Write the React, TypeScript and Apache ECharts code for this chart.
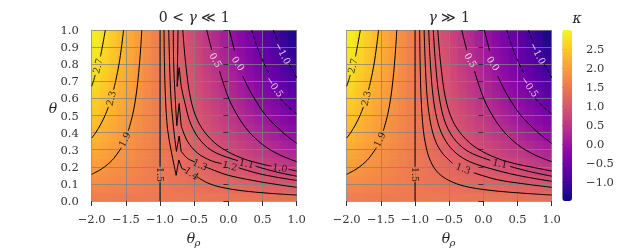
import React, { useEffect, useRef } from "react";
import * as echarts from "echarts";

// ---------- axis ticks ----------
const thetaRhoTicks = [-2.0, -1.5, -1.0, -0.5, 0.0, 0.5, 1.0];
const thetaTicks = [0.0, 0.1, 0.2, 0.3, 0.4, 0.5, 0.6, 0.7, 0.8, 0.9, 1.0];
const kappaTicks = [-1.0, -0.5, 0.0, 0.5, 1.0, 1.5, 2.0, 2.5];

// ---------- background field (cell centres) ----------
const cellThetaRho = [-1.9375, -1.8125, -1.6875, -1.5625, -1.4375, -1.3125, -1.1875, -1.0625, -0.9375, -0.8125, -0.6875, -0.5625, -0.4375, -0.3125, -0.1875, -0.0625, 0.0625, 0.1875, 0.3125, 0.4375, 0.5625, 0.6875, 0.8125, 0.9375];
const cellTheta = [0.025, 0.075, 0.125, 0.175, 0.225, 0.275, 0.325, 0.375, 0.425, 0.475, 0.525, 0.575, 0.625, 0.675, 0.725, 0.775, 0.825, 0.875, 0.925, 0.975];
const kappaGrid = [
  [1.57, 1.56, 1.55, 1.54, 1.53, 1.52, 1.51, 1.5, 1.5, 1.49, 1.48, 1.47, 1.46, 1.45, 1.44, 1.43, 1.42, 1.41, 1.41, 1.4, 1.39, 1.38, 1.37, 1.36],
  [1.69, 1.67, 1.64, 1.62, 1.59, 1.56, 1.54, 1.51, 1.49, 1.46, 1.44, 1.41, 1.38, 1.36, 1.33, 1.31, 1.28, 1.26, 1.23, 1.2, 1.18, 1.15, 1.13, 1.1],
  [1.81, 1.77, 1.73, 1.69, 1.64, 1.6, 1.56, 1.52, 1.48, 1.44, 1.4, 1.36, 1.32, 1.27, 1.23, 1.19, 1.15, 1.11, 1.07, 1.03, 0.99, 0.95, 0.91, 0.86],
  [1.91, 1.86, 1.8, 1.75, 1.69, 1.64, 1.58, 1.53, 1.47, 1.42, 1.36, 1.31, 1.25, 1.2, 1.14, 1.09, 1.03, 0.98, 0.92, 0.87, 0.81, 0.76, 0.7, 0.65],
  [2.01, 1.94, 1.87, 1.81, 1.74, 1.67, 1.6, 1.53, 1.47, 1.4, 1.33, 1.26, 1.19, 1.13, 1.06, 0.99, 0.92, 0.85, 0.79, 0.72, 0.65, 0.58, 0.51, 0.45],
  [2.1, 2.02, 1.94, 1.86, 1.78, 1.7, 1.62, 1.54, 1.46, 1.38, 1.3, 1.22, 1.14, 1.06, 0.98, 0.9, 0.82, 0.74, 0.66, 0.58, 0.5, 0.42, 0.34, 0.26],
  [2.18, 2.09, 2.0, 1.91, 1.82, 1.73, 1.64, 1.55, 1.45, 1.36, 1.27, 1.18, 1.09, 1.0, 0.91, 0.82, 0.73, 0.64, 0.54, 0.45, 0.36, 0.27, 0.18, 0.09],
  [2.26, 2.16, 2.06, 1.96, 1.85, 1.75, 1.65, 1.55, 1.45, 1.35, 1.25, 1.15, 1.04, 0.94, 0.84, 0.74, 0.64, 0.54, 0.44, 0.33, 0.23, 0.13, 0.03, -0.07],
  [2.33, 2.22, 2.11, 2.0, 1.89, 1.78, 1.67, 1.56, 1.44, 1.33, 1.22, 1.11, 1.0, 0.89, 0.78, 0.67, 0.56, 0.45, 0.34, 0.22, 0.11, 0.0, -0.11, -0.22],
  [2.4, 2.28, 2.16, 2.04, 1.92, 1.8, 1.68, 1.56, 1.44, 1.32, 1.2, 1.08, 0.96, 0.84, 0.72, 0.6, 0.48, 0.36, 0.24, 0.12, 0.0, -0.12, -0.24, -0.36],
  [2.46, 2.33, 2.21, 2.08, 1.95, 1.82, 1.69, 1.56, 1.44, 1.31, 1.18, 1.05, 0.92, 0.79, 0.67, 0.54, 0.41, 0.28, 0.15, 0.02, -0.1, -0.23, -0.36, -0.49],
  [2.52, 2.39, 2.25, 2.11, 1.98, 1.84, 1.7, 1.57, 1.43, 1.3, 1.16, 1.02, 0.89, 0.75, 0.62, 0.48, 0.34, 0.21, 0.07, -0.07, -0.2, -0.34, -0.47, -0.61],
  [2.58, 2.43, 2.29, 2.15, 2.0, 1.86, 1.72, 1.57, 1.43, 1.28, 1.14, 1.0, 0.85, 0.71, 0.57, 0.42, 0.28, 0.14, -0.01, -0.15, -0.29, -0.44, -0.58, -0.72],
  [2.63, 2.48, 2.33, 2.18, 2.03, 1.88, 1.73, 1.58, 1.42, 1.27, 1.12, 0.97, 0.82, 0.67, 0.52, 0.37, 0.22, 0.07, -0.08, -0.23, -0.38, -0.53, -0.68, -0.83],
  [2.68, 2.52, 2.36, 2.21, 2.05, 1.89, 1.74, 1.58, 1.42, 1.26, 1.11, 0.95, 0.79, 0.64, 0.48, 0.32, 0.17, 0.01, -0.15, -0.31, -0.46, -0.62, -0.78, -0.93],
  [2.72, 2.56, 2.4, 2.23, 2.07, 1.91, 1.74, 1.58, 1.42, 1.26, 1.09, 0.93, 0.77, 0.6, 0.44, 0.28, 0.11, -0.05, -0.21, -0.38, -0.54, -0.7, -0.87, -1.03],
  [2.77, 2.6, 2.43, 2.26, 2.09, 1.92, 1.75, 1.58, 1.42, 1.25, 1.08, 0.91, 0.74, 0.57, 0.4, 0.23, 0.06, -0.11, -0.28, -0.45, -0.62, -0.78, -0.95, -1.12],
  [2.81, 2.64, 2.46, 2.29, 2.11, 1.94, 1.76, 1.59, 1.41, 1.24, 1.06, 0.89, 0.71, 0.54, 0.36, 0.19, 0.01, -0.16, -0.33, -0.51, -0.68, -0.86, -1.03, -1.21],
  [2.85, 2.67, 2.49, 2.31, 2.13, 1.95, 1.77, 1.59, 1.41, 1.23, 1.05, 0.87, 0.69, 0.51, 0.33, 0.15, -0.03, -0.21, -0.39, -0.57, -0.75, -0.93, -1.11, -1.29],
  [2.89, 2.7, 2.52, 2.33, 2.15, 1.96, 1.78, 1.59, 1.41, 1.22, 1.04, 0.85, 0.67, 0.48, 0.3, 0.11, -0.07, -0.26, -0.44, -0.63, -0.81, -1.0, -1.18, -1.37],
];
const kappaMin = -1.5;
const kappaMax = 3.0;

// ---------- contour lines shared by both panels (θρ, θ), split at labels ----------
const c27 = [
  [[-1.8, 1], [-1.845, 0.9], [-1.872, 0.845]],
  [[-1.948, 0.737], [-1.975, 0.7], [-2, 0.671]],
];
const c23 = [
  [[-1.533, 1], [-1.564, 0.9], [-1.6, 0.8], [-1.65, 0.7], [-1.68, 0.65]],
  [[-1.756, 0.55], [-1.805, 0.5], [-1.866, 0.45], [-1.941, 0.4], [-2, 0.368]],
];
const c19 = [
  [[-1.267, 1], [-1.282, 0.9], [-1.301, 0.8], [-1.325, 0.7], [-1.357, 0.6], [-1.403, 0.5], [-1.465, 0.41]],
  [[-1.567, 0.312], [-1.584, 0.3], [-1.675, 0.25], [-1.735, 0.225], [-1.811, 0.2], [-1.886, 0.18], [-2, 0.156]],
];
const c15 = [
  [[-1, 1], [-1, 0.2]],
  [[-1, 0.11], [-1, 0]],
];
const c05 = [
  [[-0.317, 1], [-0.244, 0.883]],
  [[-0.13, 0.76], [-0.05, 0.66], [0.05, 0.56], [0.25, 0.43], [0.5, 0.33], [0.75, 0.27], [1, 0.23]],
];
const c00 = [
  [[0.014, 1], [0.09, 0.88]],
  [[0.21, 0.73], [0.35, 0.62], [0.55, 0.5], [0.8, 0.4], [1, 0.337]],
];
const cm05 = [
  [[0.342, 1], [0.45, 0.87], [0.6, 0.74]],
  [[0.76, 0.6], [0.88, 0.55], [1, 0.51]],
];
const cm10 = [
  [[0.658, 1], [0.73, 0.93]],
  [[0.89, 0.8], [0.95, 0.76], [1, 0.72]],
];

// ---------- right panel (γ ≫ 1) levels 1.4 … 1.0 ----------
const r14 = [
  [[-0.933, 1], [-0.925, 0.8], [-0.911, 0.6], [-0.88, 0.42], [-0.84, 0.32], [-0.77, 0.23], [-0.65, 0.16], [-0.45, 0.11], [-0.2, 0.08], [0.2, 0.058], [0.6, 0.045], [1, 0.035]],
];
const r13 = [
  [[-0.867, 1], [-0.85, 0.8], [-0.821, 0.6], [-0.77, 0.45], [-0.7, 0.35], [-0.6, 0.28], [-0.45, 0.22]],
  [[-0.14, 0.165], [0.2, 0.125], [0.6, 0.1], [1, 0.08]],
];
const r12 = [
  [[-0.8, 1], [-0.775, 0.8], [-0.732, 0.6], [-0.66, 0.45], [-0.55, 0.35], [-0.4, 0.28], [-0.2, 0.23], [0.1, 0.19], [0.5, 0.15], [1, 0.115]],
];
const r11 = [
  [[-0.733, 1], [-0.699, 0.8], [-0.643, 0.6], [-0.55, 0.45], [-0.4, 0.35], [-0.2, 0.285], [0.1, 0.238]],
  [[0.39, 0.202], [0.7, 0.17], [1, 0.145]],
];
const r10 = [
  [[-0.667, 1], [-0.624, 0.8], [-0.553, 0.6], [-0.45, 0.47], [-0.3, 0.38], [-0.1, 0.31], [0.2, 0.25], [0.5, 0.215], [0.75, 0.195], [1, 0.175]],
];

// ---------- left panel (0 < γ ≪ 1) levels 1.4 … 1.0, with the sharp notches ----------
const l14 = [
  [[-0.942, 1], [-0.935, 0.8], [-0.92, 0.6], [-0.89, 0.42], [-0.84, 0.3], [-0.79, 0.2], [-0.765, 0.15]],
  [[-0.68, 0.19], [-0.62, 0.18]],
  [[-0.46, 0.142], [-0.3, 0.105], [-0.1, 0.08], [0.2, 0.06], [0.6, 0.045], [1, 0.035]],
];
const l14Notch = [[-0.765, 0.15], [-0.725, 0.24], [-0.68, 0.19]];
const l13 = [
  [[-0.873, 1], [-0.86, 0.8], [-0.84, 0.6], [-0.8, 0.42], [-0.76, 0.29]],
  [[-0.69, 0.29], [-0.6, 0.25], [-0.49, 0.228]],
  [[-0.34, 0.2], [-0.2, 0.178], [0.0, 0.15], [0.5, 0.11], [1, 0.08]],
];
const l13Notch = [[-0.76, 0.29], [-0.72, 0.38], [-0.69, 0.29]];
const l12 = [
  [[-0.806, 1], [-0.8, 0.8], [-0.78, 0.62], [-0.755, 0.44]],
  [[-0.69, 0.44], [-0.6, 0.35], [-0.45, 0.28], [-0.25, 0.235], [-0.1, 0.219]],
  [[0.15, 0.194], [0.5, 0.155], [1, 0.12]],
];
const l12Notch = [[-0.755, 0.44], [-0.72, 0.57], [-0.69, 0.44]];
const l11 = [
  [[-0.737, 1], [-0.74, 0.9], [-0.745, 0.8], [-0.75, 0.67]],
  [[-0.69, 0.67], [-0.64, 0.58], [-0.55, 0.45], [-0.4, 0.35], [-0.2, 0.285], [0.14, 0.236]],
  [[0.4, 0.203], [0.7, 0.17], [1, 0.145]],
];
const l11Notch = [[-0.75, 0.67], [-0.72, 0.78], [-0.69, 0.67]];
const l10 = [
  [[-0.667, 1], [-0.624, 0.8], [-0.553, 0.6], [-0.45, 0.47], [-0.3, 0.38], [-0.1, 0.31], [0.2, 0.25], [0.5, 0.215], [0.63, 0.204]],
  [[0.88, 0.186], [1, 0.175]],
];

// contour labels: [θρ, θ, text, rotation°, white]
const leftLabels = [
  [-1.915, 0.79, "2.7", 76, 0],
  [-1.72, 0.6, "2.3", 75, 0],
  [-1.52, 0.36, "1.9", 64, 0],
  [-1.0, 0.155, "1.5", -90, 0],
  [-0.537, 0.162, "1.4", -35, 0],
  [-0.415, 0.214, "1.3", -25, 0],
  [0.024, 0.207, "1.2", -15, 0],
  [0.268, 0.22, "1.1", -12, 0],
  [0.756, 0.195, "1.0", -8, 0],
  [-0.185, 0.825, "0.5", -60, 1],
  [0.146, 0.805, "0.0", -57, 1],
  [0.683, 0.669, "−0.5", -55, 1],
  [0.8, 0.864, "−1.0", -62, 1],
];
const rightLabels = [
  [-1.915, 0.79, "2.7", 76, 0],
  [-1.72, 0.6, "2.3", 75, 0],
  [-1.52, 0.36, "1.9", 64, 0],
  [-1.0, 0.155, "1.5", -90, 0],
  [-0.293, 0.191, "1.3", -20, 0],
  [0.244, 0.22, "1.1", -12, 0],
  [-0.185, 0.825, "0.5", -60, 1],
  [0.146, 0.805, "0.0", -57, 1],
  [0.683, 0.669, "−0.5", -55, 1],
  [0.8, 0.864, "−1.0", -62, 1],
];

const plasma = ["#0d0887", "#41049d", "#6a00a8", "#8f0da4", "#b12a90", "#cc4778", "#e16462", "#f2844b", "#fca636", "#fcce25", "#f0f921"];

const FONT = "DejaVu Serif";

const sharedSets = [
  { level: 2.7, segs: c27 },
  { level: 2.3, segs: c23 },
  { level: 1.9, segs: c19 },
  { level: 1.5, segs: c15 },
  { level: 0.5, segs: c05 },
  { level: 0.0, segs: c00 },
  { level: -0.5, segs: cm05 },
  { level: -1.0, segs: cm10 },
];
const leftSets = [
  { level: 1.4, segs: l14 },
  { level: 1.3, segs: l13 },
  { level: 1.2, segs: l12 },
  { level: 1.1, segs: l11 },
  { level: 1.0, segs: l10 },
];
const leftNotches = [l14Notch, l13Notch, l12Notch, l11Notch];
const rightSets = [
  { level: 1.4, segs: r14 },
  { level: 1.3, segs: r13 },
  { level: 1.2, segs: r12 },
  { level: 1.1, segs: r11 },
  { level: 1.0, segs: r10 },
];

const fmt = (v: number) => (v < 0 ? "−" + Math.abs(v).toFixed(1) : v.toFixed(1));
const colorOf = (v: number) => echarts.color.lerp((v - kappaMin) / (kappaMax - kappaMin), plasma) as string;

export default function App() {
  const ref = useRef<HTMLDivElement>(null);
  useEffect(() => {
    if (!ref.current) return;
    const chart = echarts.init(ref.current, undefined, { renderer: "svg" });

    const nC = cellThetaRho.length;
    const nR = cellTheta.length;
    const dX = (cellThetaRho[1] - cellThetaRho[0]) / 2;
    const dY = (cellTheta[1] - cellTheta[0]) / 2;

    // row strips: each row is one rect, coloured left→right through its cells
    const rowItem = (params: any, api: any) => {
      const r = api.value(0);
      const tl = api.coord([cellThetaRho[0] - dX, cellTheta[r] + dY]);
      const br = api.coord([cellThetaRho[nC - 1] + dX, cellTheta[r] - dY]);
      const stops = kappaGrid[r].map((v, c) => ({ offset: (c + 0.5) / nC, color: colorOf(v) }));
      return {
        type: "rect",
        shape: { x: tl[0], y: tl[1], width: br[0] - tl[0], height: br[1] - tl[1] + 0.6 },
        style: { fill: new echarts.graphic.LinearGradient(0, 0, 1, 0, stops) },
      };
    };
    // column strips: each column one rect coloured bottom→top, blended over the rows
    const colItem = (params: any, api: any) => {
      const c = api.value(0);
      const tl = api.coord([cellThetaRho[c] - dX, cellTheta[nR - 1] + dY]);
      const br = api.coord([cellThetaRho[c] + dX, cellTheta[0] - dY]);
      const stops = kappaGrid.map((row, r) => ({ offset: (r + 0.5) / nR, color: colorOf(row[c]) }));
      return {
        type: "rect",
        shape: { x: tl[0], y: tl[1], width: br[0] - tl[0], height: br[1] - tl[1] },
        style: { fill: new echarts.graphic.LinearGradient(0, 1, 0, 0, stops), opacity: 0.5 },
      };
    };

    const grids = [
      { left: 91.7, top: 30, width: 205, height: 171 },
      { left: 346.7, top: 30, width: 205, height: 171 },
      { left: 562.3, top: 30, width: 9.7, height: 171 },
    ];

    const xAxes: any[] = [];
    const yAxes: any[] = [];
    [0, 1].forEach((g) => {
      xAxes.push({
        type: "value", gridIndex: g, min: -2, max: 1, interval: 0.5, position: "bottom", z: 3,
        axisLine: { show: false },
        axisTick: { show: true, length: 5, customValues: thetaRhoTicks, lineStyle: { color: "#333", width: 1 } },
        axisLabel: { margin: 12, customValues: thetaRhoTicks, fontFamily: FONT, fontSize: 11.5, color: "#333", formatter: fmt },
        splitLine: { show: true, lineStyle: { color: "rgba(130,130,130,0.75)", width: 1 } },
      });
      yAxes.push({
        type: "value", gridIndex: g, min: 0, max: 1, interval: 0.1, position: "left", z: 3,
        axisLine: { show: false },
        axisTick: { show: true, length: 5, customValues: thetaTicks, lineStyle: { color: "#333", width: 1 } },
        axisLabel: { show: g === 0, margin: 13, customValues: thetaTicks, fontFamily: FONT, fontSize: 11.5, color: "#333", formatter: fmt },
        splitLine: { show: true, lineStyle: { color: "rgba(130,130,130,0.75)", width: 1 } },
      });
    });
    xAxes.push({ type: "value", gridIndex: 2, min: 0, max: 1, show: false });
    yAxes.push({
      type: "value", gridIndex: 2, min: kappaMin, max: kappaMax, position: "right",
      axisLine: { show: false },
      axisTick: { show: true, length: 5, customValues: kappaTicks, lineStyle: { color: "#333", width: 1 } },
      axisLabel: { margin: 14, customValues: kappaTicks, fontFamily: FONT, fontSize: 11.5, color: "#333", formatter: fmt },
      splitLine: { show: false },
    });

    const series: any[] = [];
    [0, 1].forEach((g) => {
      series.push({
        type: "custom", xAxisIndex: g, yAxisIndex: g, renderItem: rowItem, silent: true, z: 1, clip: true,
        data: cellTheta.map((_, r) => [r]),
      });
      series.push({
        type: "custom", xAxisIndex: g, yAxisIndex: g, renderItem: colItem, silent: true, z: 1, clip: true,
        data: cellThetaRho.map((_, c) => [c]),
      });
    });
    const lineSeries = (g: number, pts: number[][], level: number, smooth: number | boolean) => ({
      type: "line", xAxisIndex: g, yAxisIndex: g, data: pts, smooth,
      showSymbol: false, symbol: "none", silent: true, z: 5, clip: true,
      lineStyle: { color: "#000", width: 1, type: level < 0 ? [4, 2] : "solid" },
    });
    [0, 1].forEach((g) => {
      const sets = sharedSets.concat(g === 0 ? leftSets : rightSets);
      sets.forEach((cs) => cs.segs.forEach((seg) => series.push(lineSeries(g, seg, cs.level, 0.35))));
      if (g === 0) leftNotches.forEach((n) => series.push(lineSeries(0, n, 1, false)));
      const labs = g === 0 ? leftLabels : rightLabels;
      series.push({
        type: "scatter", xAxisIndex: g, yAxisIndex: g, symbolSize: 0, silent: true, z: 6,
        data: labs.map((l) => ({
          value: [l[0], l[1]],
          label: { show: true, formatter: String(l[2]), rotate: l[3] as number, color: l[4] ? "#fff" : "#000" },
        })),
        label: { show: true, position: "inside", fontFamily: FONT, fontSize: 9.5 },
      });
    });
    const cbIndex = series.length;
    series.push({ type: "scatter", xAxisIndex: 2, yAxisIndex: 2, data: [], silent: true });

    const tStyle = { fontFamily: FONT, fontSize: 14, fill: "#262626" };
    chart.setOption({
      animation: false,
      grid: grids,
      xAxis: xAxes,
      yAxis: yAxes,
      visualMap: {
        type: "continuous", min: kappaMin, max: kappaMax, seriesIndex: [cbIndex], inRange: { color: plasma },
        left: 562.3, top: 30, itemWidth: 9.7, itemHeight: 171, calculable: false, padding: 0,
        text: ["", ""], orient: "vertical", hoverLink: false,
      },
      graphic: [
        { type: "text", x: 194.2, y: 17, style: { text: "{n|0 < }{i|γ}{n| ≪ 1}", align: "center", verticalAlign: "middle",
          rich: { n: { fontFamily: FONT, fontSize: 14, fill: "#262626" }, i: { fontFamily: FONT, fontSize: 14, fontStyle: "italic", fill: "#262626" } } } },
        { type: "text", x: 449.2, y: 17, style: { text: "{i|γ}{n| ≫ 1}", align: "center", verticalAlign: "middle",
          rich: { n: { fontFamily: FONT, fontSize: 14, fill: "#262626" }, i: { fontFamily: FONT, fontSize: 14, fontStyle: "italic", fill: "#262626" } } } },
        { type: "text", x: 53, y: 108, style: { ...tStyle, text: "θ", fontStyle: "italic", align: "center", verticalAlign: "middle" } },
        { type: "text", x: 191, y: 238, style: { ...tStyle, text: "θ", fontStyle: "italic", align: "center", verticalAlign: "middle" } },
        { type: "text", x: 197.5, y: 242, style: { ...tStyle, fontSize: 10, text: "ρ", fontStyle: "italic", align: "center", verticalAlign: "middle" } },
        { type: "text", x: 446, y: 238, style: { ...tStyle, text: "θ", fontStyle: "italic", align: "center", verticalAlign: "middle" } },
        { type: "text", x: 452.5, y: 242, style: { ...tStyle, fontSize: 10, text: "ρ", fontStyle: "italic", align: "center", verticalAlign: "middle" } },
        { type: "text", x: 577, y: 18, style: { ...tStyle, text: "κ", fontStyle: "italic", align: "center", verticalAlign: "middle" } },
      ],
      series,
    });
    return () => chart.dispose();
  }, []);
  return <div ref={ref} style={{ position: "fixed", left: 0, top: 0, width: 628, height: 251 }} />;
}
